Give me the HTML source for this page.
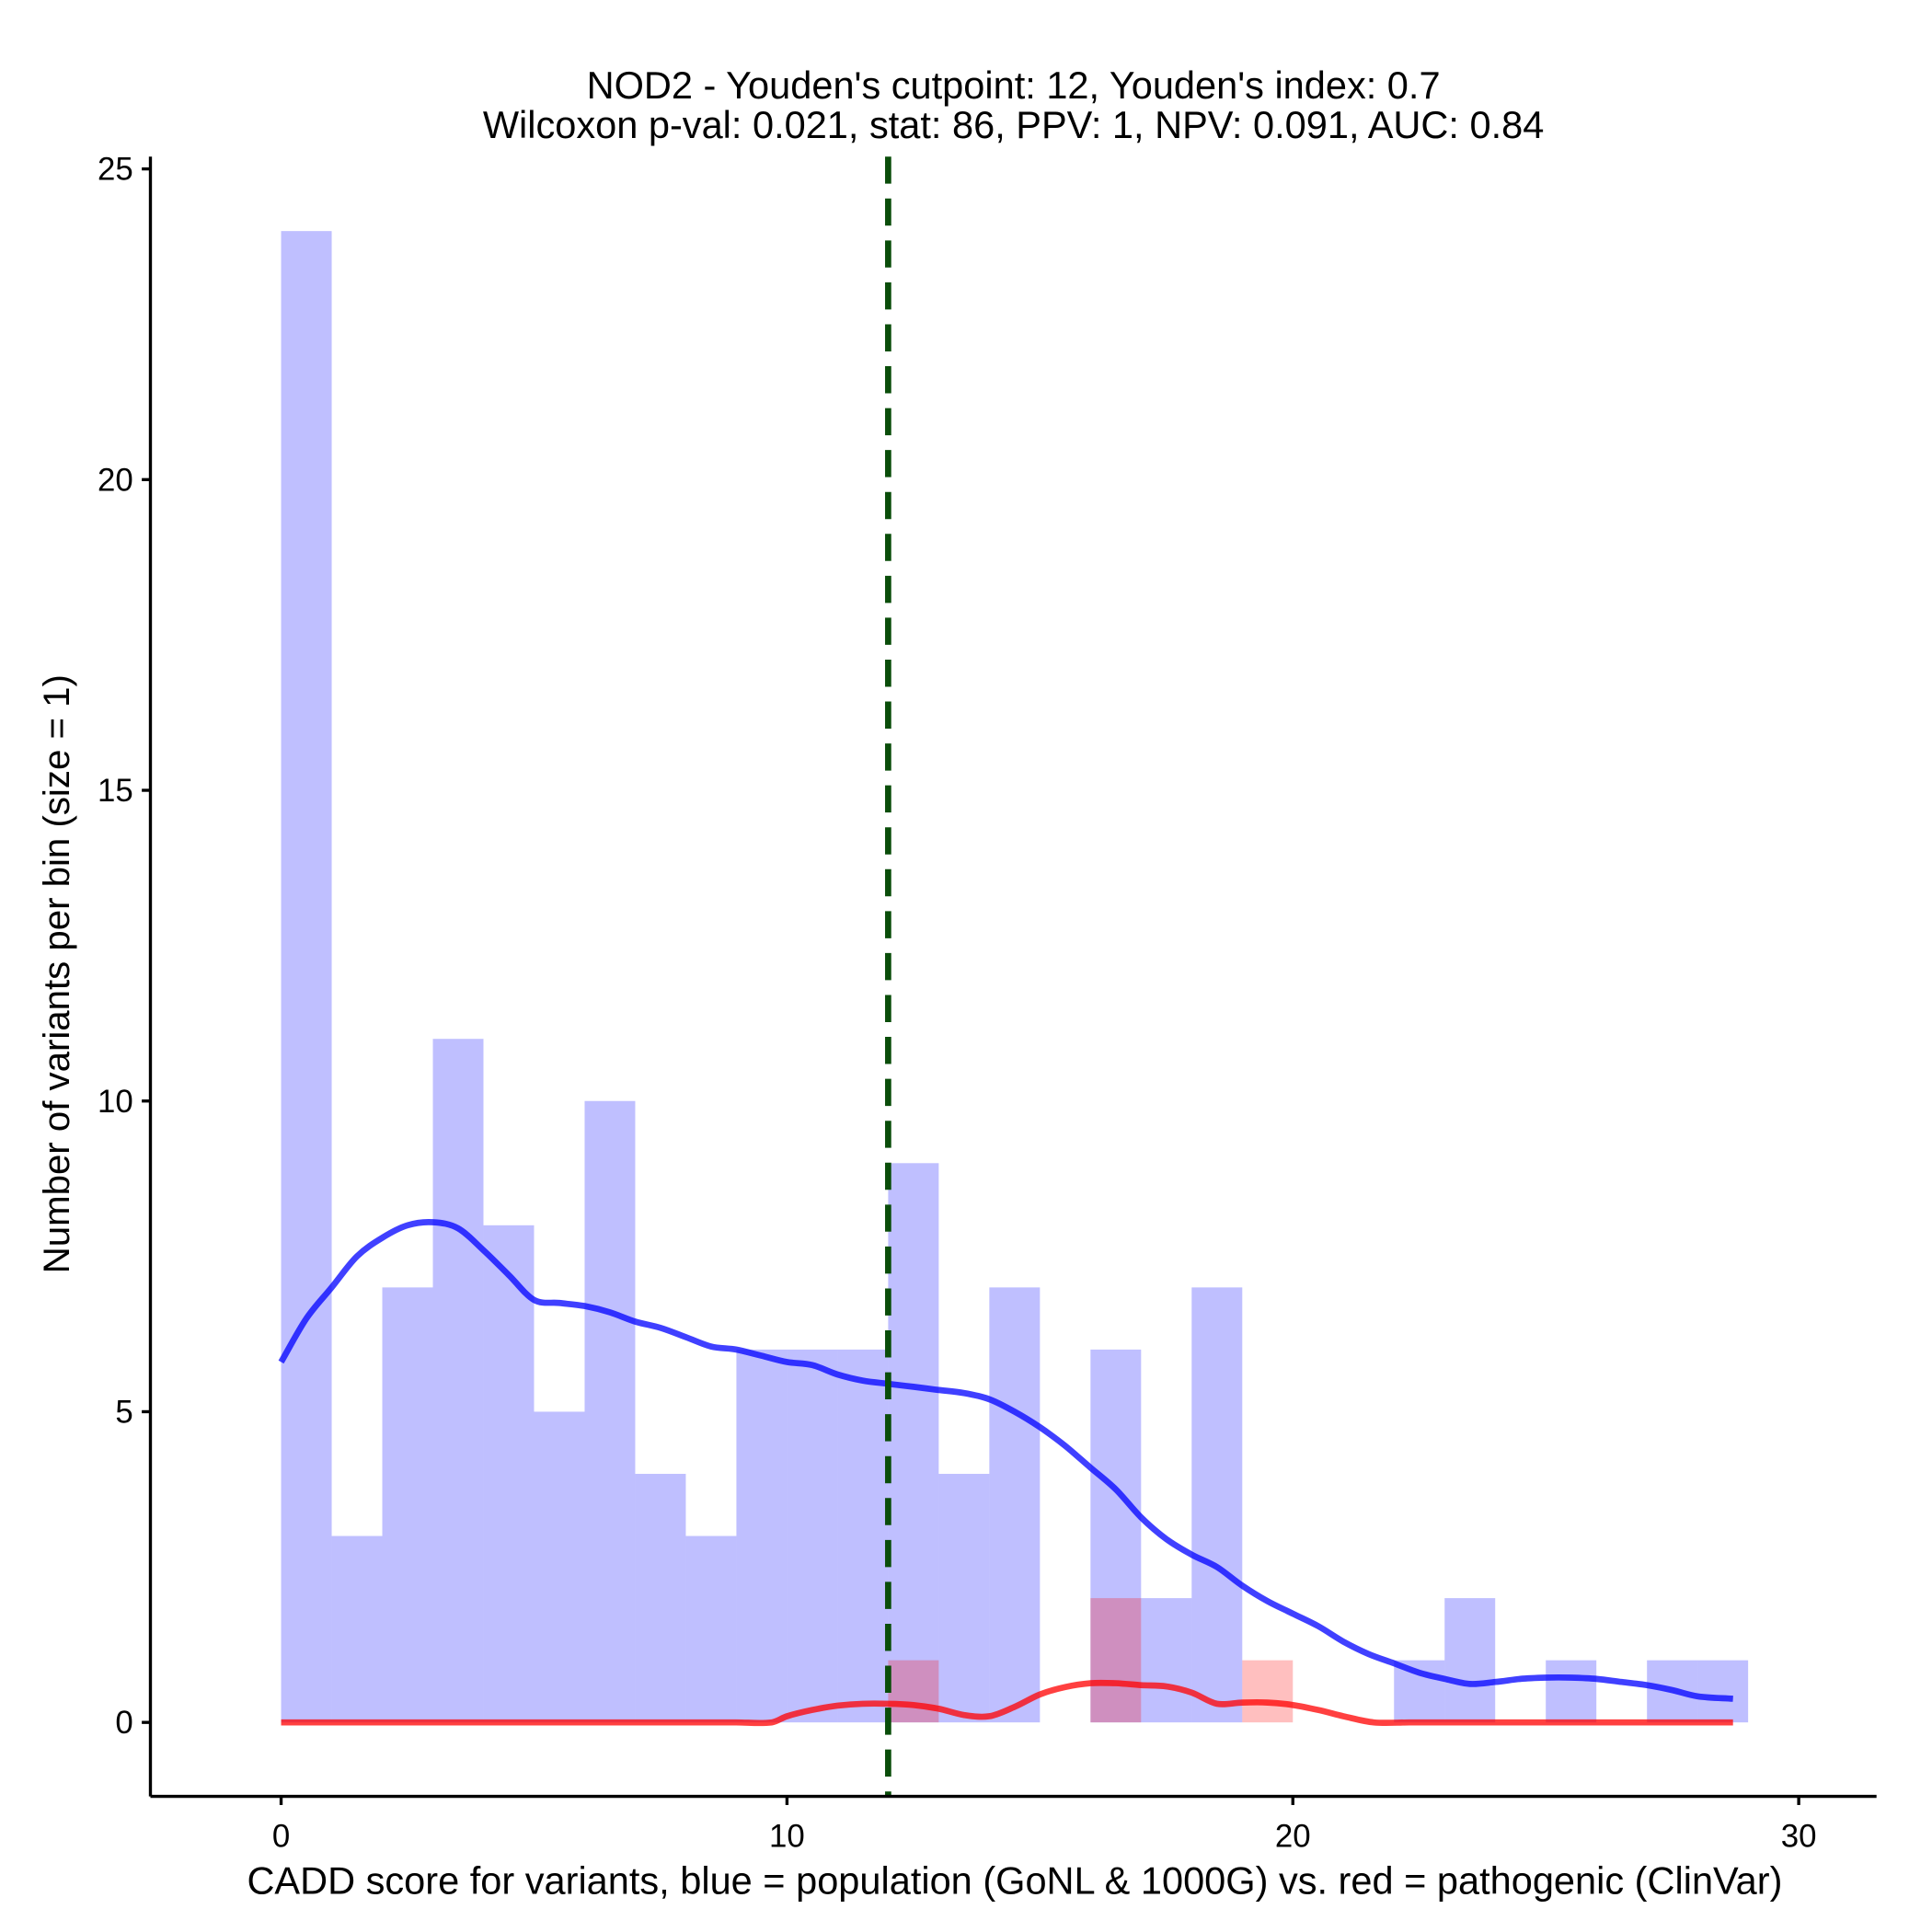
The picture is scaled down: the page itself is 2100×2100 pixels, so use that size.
<!DOCTYPE html>
<html><head><meta charset="utf-8"><style>html,body{margin:0;padding:0;background:#fff}svg{display:block}</style></head>
<body>
<svg id="chart" width="2100" height="2100" viewBox="0 0 1567 1567" xmlns="http://www.w3.org/2000/svg" font-family="Liberation Sans, Arial, sans-serif">
<g id="bars"></g>
<g id="curves"></g>
<g id="axes"></g>
<text x="822" y="80" font-size="31" text-anchor="middle">NOD2 - Youden's cutpoint: 12, Youden's index: 0.7</text>
<text x="822" y="112" font-size="31" text-anchor="middle">Wilcoxon p-val: 0.021, stat: 86, PPV: 1, NPV: 0.091, AUC: 0.84</text>
<text x="823" y="1536" font-size="31" text-anchor="middle">CADD score for variants, blue = population (GoNL &amp; 1000G) vs. red = pathogenic (ClinVar)</text>
<text x="0" y="0" font-size="30" text-anchor="middle" transform="translate(56,790) rotate(-90)">Number of variants per bin (size = 1)</text>
</svg>
<script>
const blueCounts=[24,3,7,11,8,5,10,4,3,6,6,6,9,4,7,0,6,2,7,0,0,0,1,2,0,1,0,1,1];
const redCounts=[0,0,0,0,0,0,0,0,0,0,0,0,1,0,0,0,2,0,0,1,0,0,0,0,0,0,0,0,0];
const blueX=[0,0.5,1,1.5,2,2.5,3,3.5,4,4.5,5,5.5,6,6.5,7,7.5,8,8.5,9,9.5,10,10.5,11,11.5,12,12.5,13,13.5,14,14.5,15,15.5,16,16.5,17,17.5,18,18.5,19,19.5,20,20.5,21,21.5,22,22.5,23,23.5,24,24.5,25,25.5,26,26.5,27,27.5,28,28.7];
const blueY=[5.8,6.5,7.0,7.5,7.8,8.0,8.05,7.95,7.6,7.2,6.8,6.75,6.7,6.6,6.45,6.35,6.2,6.05,6.0,5.9,5.8,5.75,5.6,5.5,5.45,5.4,5.35,5.3,5.2,5.0,4.75,4.45,4.1,3.75,3.3,2.95,2.7,2.5,2.2,1.95,1.75,1.55,1.3,1.1,0.95,0.8,0.7,0.62,0.65,0.7,0.72,0.72,0.7,0.65,0.6,0.52,0.42,0.38];
const redX=[0,9,9.7,10,10.5,11,11.5,12,12.5,13,13.5,14,14.5,15,15.5,16,16.5,17,17.5,18,18.5,19,19.5,20,20.5,21,21.6,22.3,28.7];
const redY=[0,0,0,0.1,0.2,0.27,0.3,0.3,0.28,0.22,0.12,0.1,0.25,0.45,0.57,0.63,0.63,0.6,0.58,0.48,0.3,0.32,0.32,0.28,0.2,0.1,0,0,0];
const xTicks=[0,10,20,30];
const yTicks=[0,5,10,15,20,25];
const cutpoint=12;
const NS='http://www.w3.org/2000/svg';
const sx=v=>228+v*41.03, sy=v=>1397-v*50.4;
function mk(tag,parent,attrs){const e=document.createElementNS(NS,tag);for(const k in attrs)e.setAttribute(k,attrs[k]);parent.appendChild(e);return e;}
const gb=document.getElementById('bars');
blueCounts.forEach((c,i)=>{if(!c)return;const r=mk('rect',gb,{x:sx(i),y:sy(c),width:sx(i+1)-sx(i),height:sy(0)-sy(c),fill:'rgba(0,0,255,0.25)'});

});
redCounts.forEach((c,i)=>{if(!c)return;const r=mk('rect',gb,{x:sx(i),y:sy(c),width:sx(i+1)-sx(i),height:sy(0)-sy(c),fill:'rgba(255,0,0,0.25)'});

});
const gc=document.getElementById('curves');
function smooth(xs,ys){const n=xs.length;
const m=xs.map((x,i)=>{const a=Math.max(0,i-1),b=Math.min(n-1,i+1);return (ys[b]-ys[a])/(xs[b]-xs[a]);});
let d='M'+sx(xs[0]).toFixed(1)+','+sy(ys[0]).toFixed(1);
for(let i=0;i<n-1;i++){const h=xs[i+1]-xs[i];
const c1x=xs[i]+h/3,c1y=ys[i]+m[i]*h/3,c2x=xs[i+1]-h/3,c2y=ys[i+1]-m[i+1]*h/3;
d+='C'+sx(c1x).toFixed(1)+','+sy(c1y).toFixed(1)+' '+sx(c2x).toFixed(1)+','+sy(c2y).toFixed(1)+' '+sx(xs[i+1]).toFixed(1)+','+sy(ys[i+1]).toFixed(1);}
return d;}
function line(xs,ys,col,name){
const p=mk('path',gc,{d:smooth(xs,ys),fill:'none',stroke:col,'stroke-width':5,'stroke-linejoin':'round','stroke-opacity':0.75});

}
line(blueX,blueY,'#0000ff','blue-density-line');
line(redX,redY,'#ff0000','red-density-line');
const cl=mk('line',gc,{x1:sx(cutpoint),x2:sx(cutpoint),y1:127,y2:1457,stroke:'#0a4d0a','stroke-width':5,'stroke-dasharray':'22,12'});


const ga=document.getElementById('axes');
mk('line',ga,{x1:122,x2:122,y1:127,y2:1457,stroke:'#000','stroke-width':2.5});
mk('line',ga,{x1:122,x2:1522,y1:1457,y2:1457,stroke:'#000','stroke-width':2.5});
yTicks.forEach(v=>{mk('line',ga,{x1:115,x2:122,y1:sy(v),y2:sy(v),stroke:'#000','stroke-width':2.5});
const t=mk('text',ga,{x:108,y:sy(v)+9,'font-size':26,'text-anchor':'end'});t.textContent=v;

});
xTicks.forEach(v=>{mk('line',ga,{x1:sx(v),x2:sx(v),y1:1457,y2:1464,stroke:'#000','stroke-width':2.5});
const t=mk('text',ga,{x:sx(v),y:1498,'font-size':26,'text-anchor':'middle'});t.textContent=v;

});
</script>
</body></html>
